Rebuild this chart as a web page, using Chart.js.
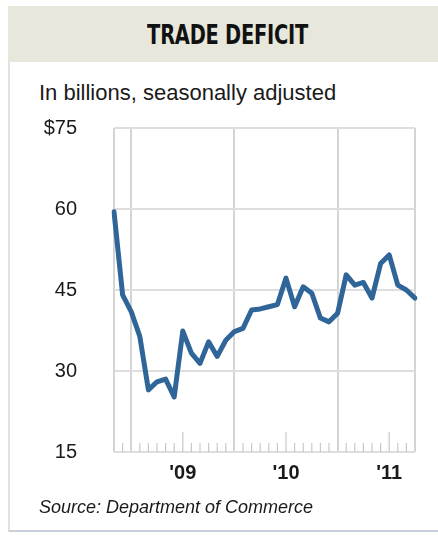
<!DOCTYPE html>
<html>
<head>
<meta charset="utf-8">
<script src="https://cdn.jsdelivr.net/npm/chart.js@4"></script>
<style>
  html, body { margin: 0; padding: 0; background: #fff; }
  body { width: 438px; height: 536px; position: relative; overflow: hidden; font-family: 'Liberation Sans', Arial, sans-serif; color: #1a1a1a; }
  .card { position: absolute; left: 8px; top: 6px; width: 430px; height: 526px; border-left: 2px solid #e4e2d8; border-bottom: 2px solid #c8d0dc; box-sizing: border-box; }
  .band { position: absolute; left: 8px; top: 6px; width: 430px; height: 56px; background: #e7e7db; }
  .title { position: absolute; left: 8px; top: 6px; width: 440px; height: 56px; line-height: 58px; text-align: center; }
  .title span { display: inline-block; transform: scaleX(0.8); font-family: 'DejaVu Sans Condensed', 'Liberation Sans Narrow', sans-serif; font-weight: bold; font-size: 27px; letter-spacing: -0.3px; color: #111; }
  .sub { position: absolute; left: 39px; top: 80px; font-size: 22px; }
  .src { position: absolute; left: 39px; top: 497px; font-size: 18px; font-style: italic; }
  canvas { position: absolute; left: 0; top: 0; }
</style>
</head>
<body>
<div class="card"></div>
<div class="band"></div>
<div class="title"><span>TRADE DEFICIT</span></div>
<div class="sub">In billions, seasonally adjusted</div>
<canvas id="myChart" width="438" height="536"></canvas>
<div class="src">Source: Department of Commerce</div>
<script>
// Months shown (Oct 2008 - Sep 2011)
const months = [
  'Oct 2008', 'Nov 2008', 'Dec 2008',
  'Jan 2009', 'Feb 2009', 'Mar 2009', 'Apr 2009', 'May 2009', 'Jun 2009',
  'Jul 2009', 'Aug 2009', 'Sep 2009', 'Oct 2009', 'Nov 2009', 'Dec 2009',
  'Jan 2010', 'Feb 2010', 'Mar 2010', 'Apr 2010', 'May 2010', 'Jun 2010',
  'Jul 2010', 'Aug 2010', 'Sep 2010', 'Oct 2010', 'Nov 2010', 'Dec 2010',
  'Jan 2011', 'Feb 2011', 'Mar 2011', 'Apr 2011', 'May 2011', 'Jun 2011',
  'Jul 2011', 'Aug 2011', 'Sep 2011'
];

// Trade deficit, billions of dollars
const deficit = [
  59.5, 44.1, 41.0,
  36.4, 26.5, 28.0, 28.5, 25.2, 37.4,
  33.3, 31.4, 35.4, 32.7, 35.7, 37.3,
  37.9, 41.3, 41.5, 41.9, 42.3, 47.2,
  41.9, 45.6, 44.4, 39.8, 39.1, 40.7,
  47.8, 45.9, 46.4, 43.5, 49.9, 51.5,
  45.9, 45.0, 43.5
];

const yTicks = [15, 30, 45, 60, 75];

Chart.defaults.font.family = "'Liberation Sans', Arial, sans-serif";
Chart.defaults.color = '#1a1a1a';

// small month ticks drawn upward from the bottom axis
const innerTicks = {
  id: 'innerTicks',
  beforeDatasetsDraw(chart) {
    const x = chart.scales.x;
    const bottom = chart.chartArea.bottom;
    const ctx = chart.ctx;
    ctx.save();
    ctx.strokeStyle = '#c8c8c8';
    ctx.lineWidth = 1.2;
    months.forEach((m, i) => {
      if (i === 0 || i === months.length - 1 || m.startsWith('Dec')) return;
      const px = x.getPixelForValue(i);
      const len = m.startsWith('Jun') ? 20 : 9;
      ctx.beginPath();
      ctx.moveTo(px, bottom);
      ctx.lineTo(px, bottom - len);
      ctx.stroke();
    });
    ctx.restore();
  }
};

const config = {
  type: 'line',
  data: {
    labels: months,
    datasets: [{
      label: 'Trade deficit',
      data: deficit,
      borderColor: '#2f6598',
      borderWidth: 5,
      pointRadius: 0,
      tension: 0,
      borderJoinStyle: 'round',
      borderCapStyle: 'round'
    }]
  },
  options: {
    responsive: false,
    animation: false,
    layout: { padding: { left: 40, right: 23, top: 128, bottom: 54 } },
    plugins: { legend: { display: false }, tooltip: { enabled: false } },
    scales: {
      x: {
        type: 'category',
        offset: false,
        border: { display: false },
        grid: {
          drawTicks: false,
          lineWidth: 2,
          color: (c) => {
            const i = c.index;
            const m = months[i] || '';
            return (i === 0 || i === months.length - 1 || m.startsWith('Dec')) ? '#d4d4d4' : 'rgba(0,0,0,0)';
          }
        },
        ticks: {
          autoSkip: false,
          maxRotation: 0,
          padding: 9,
          font: { size: 20, weight: 'bold' },
          callback: (v, i) => months[i].startsWith('Jun') ? "'" + months[i].slice(-2) : ''
        },
        afterFit: (s) => { s.height = 30; }
      },
      y: {
        min: 15,
        max: 75,
        border: { display: false },
        grid: { drawTicks: false, lineWidth: 2, color: '#dedede' },
        afterBuildTicks: (s) => { s.ticks = yTicks.map(v => ({ value: v })); },
        ticks: {
          crossAlign: 'near',
          padding: 37,
          font: { size: 20 },
          callback: (v) => v === 75 ? '$75' : String(v)
        },
        afterFit: (s) => { s.width = 74; }
      }
    }
  },
  plugins: [innerTicks]
};

const myChart = new Chart(document.getElementById('myChart'), config);
</script>
</body>
</html>
